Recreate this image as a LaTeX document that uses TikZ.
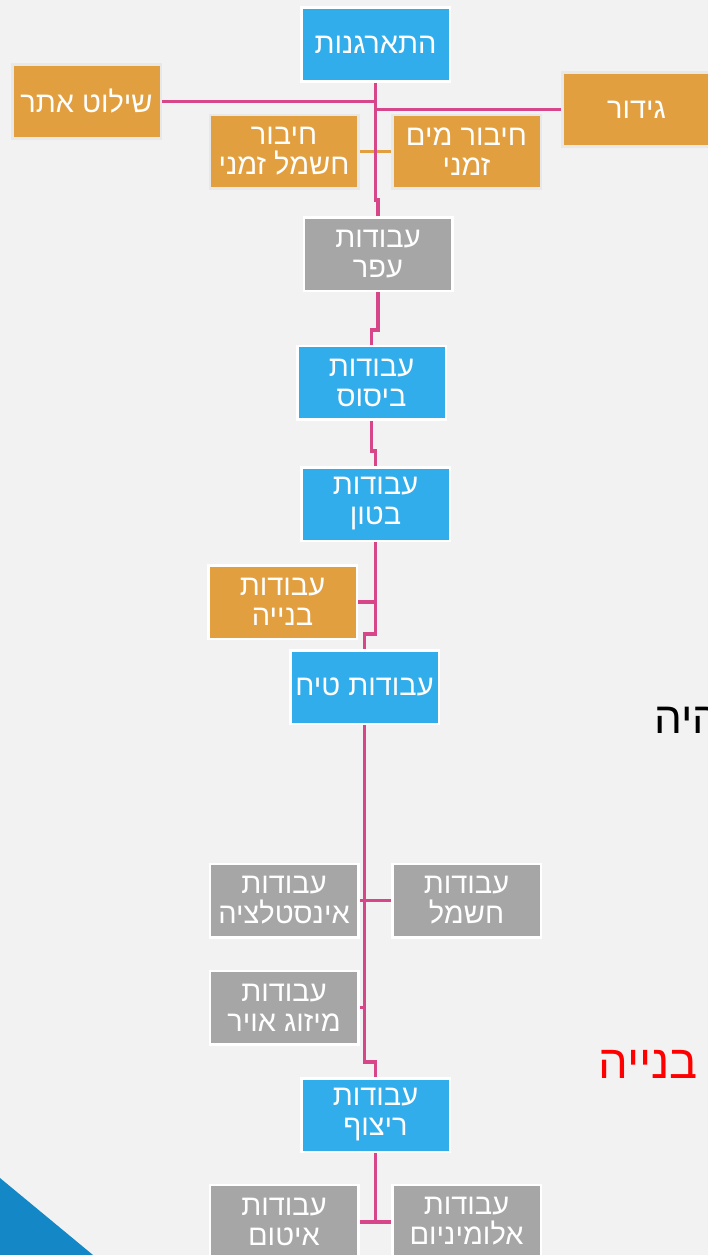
\documentclass[tikz,border=0pt]{standalone}
\usepackage{fontspec}
\TeXXeTstate=1
\newfontfamily\heb[Script=Hebrew]{Liberation Sans}
\newcommand{\rl}[1]{\beginR #1\endR}
\definecolor{bg}{HTML}{F2F2F2}
\definecolor{bblue}{HTML}{32ADEB}
\definecolor{borange}{HTML}{E29F40}
\definecolor{bgrey}{HTML}{A6A6A6}
\definecolor{conn}{HTML}{D8468A}
\definecolor{lborder}{HTML}{E8E8E8}
\definecolor{tri}{HTML}{1487C6}
\tikzset{
  box/.style={rectangle, draw=white, line width=2.5pt, minimum width=148.5pt, minimum height=73.5pt,
    text=white, font=\heb\fontsize{29}{30}\selectfont, align=center, inner sep=0pt},
  bluebox/.style={box, fill=bblue},
  greybox/.style={box, fill=bgrey},
  orbox/.style={box, fill=borange, draw=lborder},
  orwbox/.style={box, fill=borange},
  connline/.style={draw=conn, line width=3.2pt},
  orline/.style={draw=borange, line width=3.2pt},
}
\begin{document}
\begin{tikzpicture}[x=1pt,y=-1pt]
\useasboundingbox (0,0) rectangle (708,1255);
\clip (0,0) rectangle (708,1255);
\fill[bg] (0,0) rectangle (708,1255);
\fill[tri] (0,1178) -- (93,1255) -- (0,1255) -- cycle;

\node[bluebox] (org) at (375.5,44.5) {\rl{התארגנות}};
\node[orbox] (shilut) at (86.5,101.5) {\rl{שילוט אתר}};
\node[orbox] (gidur) at (636.5,109.5) {\rl{גידור}};
\node[orbox] (hashmalz) at (284,151.5) {\rl{חיבור}\\\rl{חשמל זמני}};
\node[orbox] (mayim) at (466.5,151.5) {\rl{חיבור מים}\\\rl{זמני}};
\node[greybox] (afar) at (378,254) {\rl{עבודות}\\\rl{עפר}};
\node[bluebox] (bisus) at (371.5,382.5) {\rl{עבודות}\\\rl{ביסוס}};
\node[bluebox] (beton) at (375.5,504) {\rl{עבודות}\\\rl{בטון}};
\node[orwbox] (bniya) at (282.5,602) {\rl{עבודות}\\\rl{בנייה}};
\node[bluebox] (tiach) at (364.5,687) {\rl{עבודות טיח}};
\node[greybox] (instal) at (284,900.5) {\rl{עבודות}\\\rl{אינסטלציה}};
\node[greybox] (hashmal) at (466.5,900.5) {\rl{עבודות}\\\rl{חשמל}};
\node[greybox] (mizug) at (284,1007.5) {\rl{עבודות}\\\rl{מיזוג אויר}};
\node[bluebox] (ritzuf) at (375.5,1115) {\rl{עבודות}\\\rl{ריצוף}};
\node[greybox] (itum) at (284,1221.5) {\rl{עבודות}\\\rl{איטום}};
\node[greybox] (alum) at (466.5,1221.5) {\rl{עבודות}\\\rl{אלומיניום}};

\node[anchor=base west, inner sep=0pt, text=black, font=\heb\fontsize{44}{48}\selectfont] (hayah) at (654,733) {\rl{היה}};
\node[anchor=base west, inner sep=0pt, text=red, font=\heb\fontsize{47}{50}\selectfont] (bniyared) at (598,1078) {\rl{בנייה}};

% connectors
\draw[orline] (hashmalz.east) -- (mayim.west);
\draw[connline] (org.south) -- (org.south |- 0,200) -- ([xshift=0pt]afar.north |- 0,200) -- (afar.north);
\draw[connline] (shilut.east |- 0,101.5) -- (org.south |- 0,101.5);
\draw[connline] (org.south |- 0,109.5) -- (gidur.west);
\draw[connline] (afar.south) -- (afar.south |- 0,330) -- (bisus.north |- 0,330) -- (bisus.north);
\draw[connline] (bisus.south) -- (bisus.south |- 0,451) -- (beton.north |- 0,451) -- (beton.north);
\draw[connline] (beton.south) -- (beton.south |- 0,634) -- (tiach.north |- 0,634) -- (tiach.north);
\draw[connline] (bniya.east) -- (beton.south |- bniya.east);
\draw[connline] (tiach.south) -- (tiach.south |- 0,1062) -- (ritzuf.north |- 0,1062) -- (ritzuf.north);
\draw[connline] (instal.east) -- (hashmal.west);
\draw[connline] (mizug.east) -- (tiach.south |- mizug.east);
\draw[connline] (ritzuf.south) -- (ritzuf.south |- 0,1222);
\draw[connline] (itum.east |- 0,1222) -- (alum.west |- 0,1222);
\end{tikzpicture}
\end{document}
